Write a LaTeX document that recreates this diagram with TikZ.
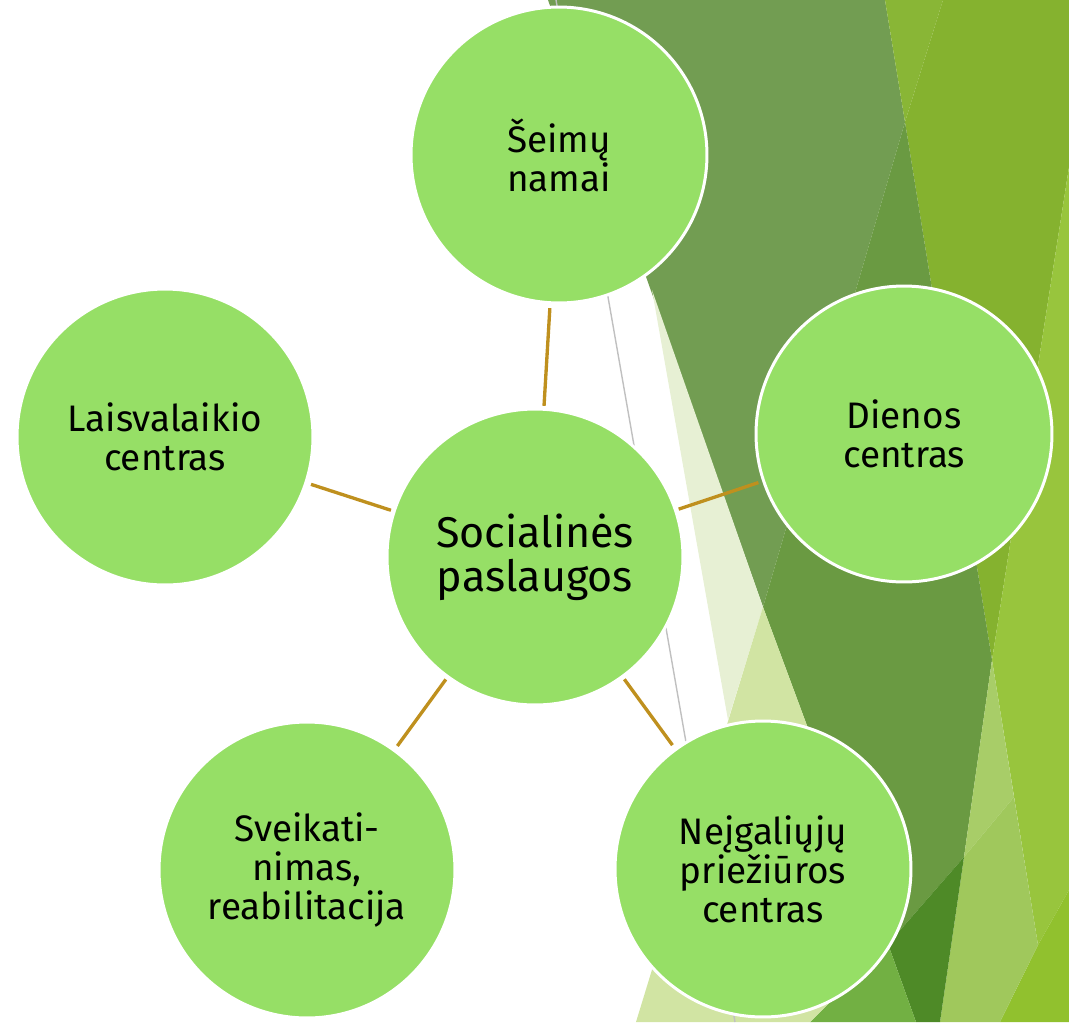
\documentclass[tikz,border=0pt]{standalone}
\usepackage{fontspec}
\setmainfont{Fira Sans}
\definecolor{burbul}{RGB}{150,223,102}
\definecolor{jungt}{RGB}{191,144,30}
\definecolor{linija}{RGB}{192,192,192}
\definecolor{tamsA}{RGB}{114,157,82}
\definecolor{tamsB}{RGB}{106,154,66}
\definecolor{tamsC}{RGB}{78,138,39}
\definecolor{vidur}{RGB}{114,176,67}
\definecolor{alyv}{RGB}{133,178,47}
\definecolor{alyvS}{RGB}{137,182,54}
\definecolor{ryskus}{RGB}{152,197,61}
\definecolor{ryskusB}{RGB}{145,193,46}
\definecolor{sviesA}{RGB}{168,205,104}
\definecolor{sviesB}{RGB}{160,200,92}
\definecolor{blysk}{RGB}{231,240,212}
\definecolor{blyskB}{RGB}{209,228,163}
\begin{document}
\begin{tikzpicture}[x=0.02cm, y=-0.02cm,
  burbulas/.style={circle, fill=burbul, draw=white, line width=1.7pt,
    minimum size=5.92cm, inner sep=0pt, align=center,
    font=\fontsize{21}{22.2}\selectfont},
  jungtis/.style={draw=jungt, line width=1.9pt, shorten >=0.08cm, shorten <=0.04cm}]
  \useasboundingbox (0,0) rectangle (1069,1022);

  % Fonas
  \fill[tamsA] (548,0) -- (885,0) -- (905,122) -- (763,607) -- cycle;
  \fill[alyvS] (885,0) -- (943,0) -- (905,122) -- cycle;
  \fill[alyv] (943,0) -- (1069,0) -- (1069,167) -- (992,660) -- (905,122) -- cycle;
  \fill[tamsB] (905,122) -- (992,660) -- (964,857) -- (888,944) -- (763,607) -- cycle;
  \fill[ryskus] (1069,167) -- (1069,890) -- (1038,945) -- (992,660) -- cycle;
  \fill[ryskusB] (1069,890) -- (1069,1022) -- (1000,1022) -- (1038,945) -- cycle;
  \fill[sviesA] (992,660) -- (1014,797) -- (964,857) -- cycle;
  \fill[sviesB] (964,857) -- (1014,797) -- (1038,945) -- (1000,1022) -- (940,1022) -- cycle;
  \fill[tamsC] (888,944) -- (964,857) -- (940,1022) -- (916,1022) -- cycle;
  \fill[vidur] (810,1022) -- (888,944) -- (916,1022) -- cycle;
  \fill[blysk] (652,290) -- (763,607) -- (728,720) -- cycle;
  \fill[blyskB] (763,607) -- (888,944) -- (810,1022) -- (636,1022) -- cycle;
  \draw[linija, line width=0.8pt] (556,0) -- (735,1022);

  % Burbulai
  \node[burbulas, font=\fontsize{24.5}{25}\selectfont] (soc) at (535,557) {Socialinės\\paslaugos};
  \node[burbulas] (seimu) at (559,155) {Šeimų\\namai};
  \node[burbulas] (laisv) at (165,437) {Laisvalaikio\\centras};
  \node[burbulas] (dienos) at (904,434) {Dienos\\centras};
  \node[burbulas] (sveik) at (307,870) {Sveikati-\\nimas,\\reabilitacija};
  \node[burbulas] (neigal) at (763,869) {Neįgaliųjų\\priežiūros\\centras};

  % Jungtys
  \foreach \k in {seimu, laisv, dienos, sveik, neigal}
    \draw[jungtis] (soc) -- (\k);
\end{tikzpicture}
\end{document}
